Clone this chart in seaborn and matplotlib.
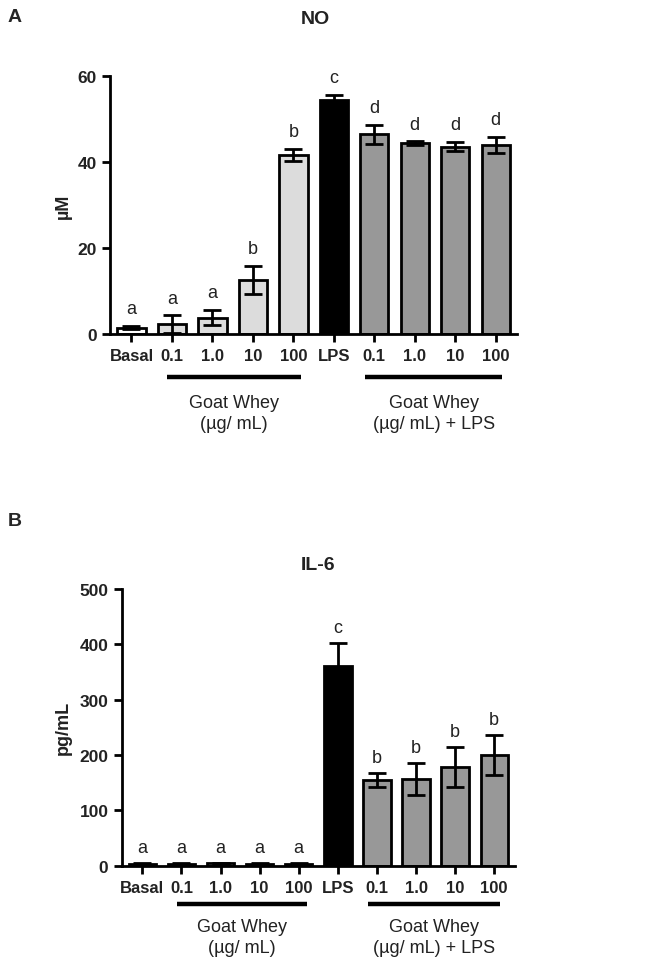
import matplotlib
matplotlib.use("Agg")
import matplotlib.pyplot as plt
import matplotlib.transforms as mtrans
import seaborn as sns
import pandas as pd

# ---- data ----
tick_labels = ["Basal", "0.1", "1.0", "10", "100", "LPS", "0.1", "1.0", "10", "100"]
groups = ["basal", "gw", "gw", "gw", "gw", "lps", "gwlps", "gwlps", "gwlps", "gwlps"]

no_mean = [1.5, 2.3, 3.8, 12.6, 41.7, 54.4, 46.5, 44.4, 43.6, 44.0]
no_err = [0.4, 2.1, 1.8, 3.2, 1.4, 1.2, 2.2, 0.4, 1.1, 1.9]
no_letters = ["a", "a", "a", "b", "b", "c", "d", "d", "d", "d"]

il6_mean = [3, 3, 4, 3, 3, 361, 155, 157, 179, 200]
il6_err = [1, 1, 1, 1, 1, 41, 12, 29, 36, 36]
il6_letters = ["a", "a", "a", "a", "a", "c", "b", "b", "b", "b"]

group_titles = ["Goat Whey\n(\u00b5g/ mL)", "Goat Whey\n(\u00b5g/ mL) + LPS"]

fill_colors = {"basal": "#ffffff", "gw": "#dcdcdc", "lps": "#000000", "gwlps": "#989898"}

sns.set_theme(style="ticks")
plt.rcParams["font.family"] = ["Liberation Sans Narrow", "Liberation Sans", "DejaVu Sans"]

fig = plt.figure(figsize=(6.61, 9.70), dpi=100)

LW = 2.0
TXT = "#222222"


def panel(rect, means, errs, letters, ylim, yticks, ylabel, ylabel_x, letter_pad,
          line_y, label_y):
    ax = fig.add_axes(rect)
    ids = [f"c{i}" for i in range(len(means))]
    df = pd.DataFrame({"id": ids, "val": means, "grp": groups})
    palette = {i: fill_colors[g] for i, g in zip(ids, groups)}
    sns.barplot(data=df, x="id", y="val", hue="id", palette=palette, legend=False,
                width=0.7, edgecolor="black", linewidth=LW, ax=ax, errorbar=None,
                saturation=1)
    xs = list(range(len(means)))
    ax.errorbar(xs, means, yerr=errs, fmt="none", ecolor="black", elinewidth=LW,
                capsize=6.5, capthick=LW, zorder=5)
    for x, m, e, l in zip(xs, means, errs, letters):
        ax.text(x, m + e + letter_pad, l, ha="center", va="bottom", fontsize=13,
                color=TXT)
    ax.set_ylim(*ylim)
    ax.set_yticks(yticks)
    ax.set_xlim(-0.53, 9.53)
    ax.set_xticks(xs)
    ax.set_xticklabels(tick_labels, fontsize=12, fontweight="bold", color=TXT)
    ax.tick_params(axis="y", labelsize=12.5, width=LW, length=6, color="black",
                   labelcolor=TXT)
    ax.tick_params(axis="x", width=LW, length=6, color="black", pad=4)
    for lab in ax.get_yticklabels():
        lab.set_fontweight("bold")
    ax.set_xlabel("")
    ax.set_ylabel(ylabel, fontsize=13, fontweight="bold", color=TXT)
    ax.yaxis.set_label_coords(ylabel_x, 0.5)
    sns.despine(ax=ax)
    for s in ("left", "bottom"):
        ax.spines[s].set_linewidth(LW)
        ax.spines[s].set_color("black")
    trans = mtrans.blended_transform_factory(ax.transData, ax.transAxes)
    for (x0, x1), t in zip([(0.88, 4.2), (5.78, 9.15)], group_titles):
        ax.plot([x0, x1], [line_y, line_y], color="black", lw=3.2, transform=trans,
                clip_on=False, solid_capstyle="butt")
        ax.text((x0 + x1) / 2, label_y, t, transform=trans, ha="center", va="top",
                fontsize=13, linespacing=1.3, color=TXT)
    return ax


axA = panel([0.1664, 0.6546, 0.616, 0.266], no_mean, no_err, no_letters, (0, 60),
            [0, 20, 40, 60], "\u00b5M", -0.093, 2.0, -0.168, -0.232)
axB = panel([0.184, 0.1065, 0.595, 0.2853], il6_mean, il6_err, il6_letters, (0, 500),
            [0, 100, 200, 300, 400, 500], "pg/mL", -0.126, 13, -0.138, -0.19)

fig.text(315 / 661, 1 - 19 / 970, "NO", ha="center", va="center", fontsize=14,
         fontweight="bold", color=TXT)
fig.text(318 / 661, 1 - 565 / 970, "IL-6", ha="center", va="center", fontsize=14,
         fontweight="bold", color=TXT)
fig.text(8 / 661, 1 - 18 / 970, "A", ha="left", va="center", fontsize=14,
         fontweight="bold", family=["Liberation Sans", "DejaVu Sans"])
fig.text(8 / 661, 1 - 522 / 970, "B", ha="left", va="center", fontsize=14,
         fontweight="bold", family=["Liberation Sans", "DejaVu Sans"])

fig.savefig("out.png", dpi=100, facecolor="white")
